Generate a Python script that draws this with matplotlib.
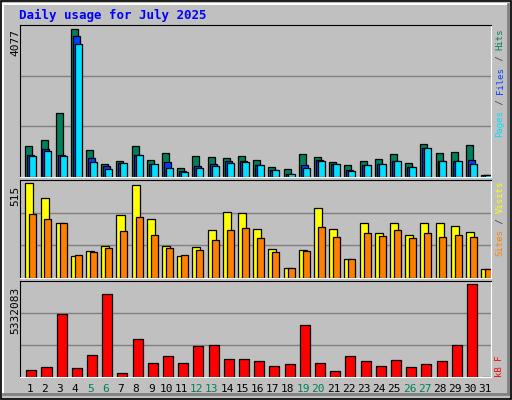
import matplotlib
matplotlib.use("Agg")
import matplotlib.pyplot as plt
from matplotlib.patches import Rectangle

days = list(range(1, 32))
weekend_days = [5, 6, 12, 13, 19, 20, 26, 27]

hits = [867, 1033, 1780, 4077, 756, 369, 452, 867, 480, 673, 258, 590, 562, 535, 590, 480,
        286, 231, 645, 562, 424, 341, 452, 507, 645, 396, 922, 673, 701, 894, 65]
files = [618, 784, 618, 3882, 535, 313, 396, 618, 369, 424, 175, 313, 369, 452, 452, 341,
         203, 92, 341, 480, 369, 203, 341, 369, 452, 286, 811, 452, 452, 480, 65]
pages = [590, 728, 590, 3660, 424, 231, 396, 618, 369, 258, 148, 258, 313, 396, 424, 341,
         203, 92, 258, 452, 369, 175, 341, 369, 452, 286, 811, 452, 452, 369, 65]
sites = [515, 437, 297, 118, 146, 174, 341, 504, 319, 174, 118, 168, 263, 358, 353, 269,
         157, 56, 151, 381, 269, 101, 297, 246, 302, 235, 302, 302, 285, 252, 50]
visits = [347, 319, 297, 123, 140, 162, 258, 330, 235, 162, 123, 151, 207, 263, 274, 218,
          140, 56, 146, 280, 224, 106, 246, 230, 263, 218, 246, 224, 235, 224, 50]
kbytes = [428000, 603000, 3640000, 545000, 1245000, 4807000, 253000, 2180000, 778000,
          1187000, 778000, 1771000, 1829000, 1012000, 1012000, 895000, 662000, 720000,
          2997000, 778000, 370000, 1187000, 895000, 662000, 954000, 603000, 720000, 895000,
          1829000, 5332083, 20000]

W, H = 512, 400
BG = "#C0C0C0"
MONO = "DejaVu Sans Mono"

fig = plt.figure(figsize=(W / 100, H / 100), dpi=100)
fig.patch.set_facecolor(BG)


def px_axes(x0, y0, x1, y1):
    # pixel box (top-left origin) -> figure axes
    return fig.add_axes([x0 / W, 1 - y1 / H, (x1 - x0) / W, (y1 - y0) / H])


# outer frame
frame = fig.add_axes([0, 0, 1, 1])
frame.set_xlim(0, W)
frame.set_ylim(H, 0)
frame.axis("off")
frame.add_patch(Rectangle((0.5, 0.5), W - 1.5, H - 1.5, fill=False, ec="black", lw=1.2))
frame.plot([3, W - 4], [4, 4], color="white", lw=1.5)
frame.plot([3, 3], [4, H - 6], color="white", lw=1.5)
frame.plot([3, W - 4], [H - 6, H - 6], color="#808080", lw=2)
frame.plot([W - 4, W - 4], [4, H - 6], color="#808080", lw=2)
frame.text(19, 15, "Daily usage for July 2025", color="#0000FF", fontsize=9,
           fontweight="bold", family=MONO, va="center")


def panel(y0, y1, ymax):
    ax = px_axes(20, y0, 491, y1)
    ax.set_facecolor(BG)
    ax.set_xlim(0.5, 31.5)
    ax.set_ylim(0, ymax)
    for frac in (1 / 3, 2 / 3):
        ax.axhline(ymax * frac, color="#808080", lw=1, zorder=0)
    ax.set_xticks([])
    ax.set_yticks([])
    for side in ("top", "left"):
        ax.spines[side].set_color("black")
    for side in ("bottom", "right"):
        ax.spines[side].set_color("white")
    return ax


def bars(ax, offset, values, width, color):
    ax.bar([d + offset for d in days], values, width=width, align="edge",
           color=color, edgecolor="black", linewidth=0.9)


ax1 = panel(25, 177, 4077 * 455 / 442)
bars(ax1, -0.15, hits, 0.46, "#00805C")
bars(ax1, -0.02, files, 0.46, "#0040FF")
bars(ax1, 0.11, pages, 0.46, "#00E0FF")

ax2 = panel(180, 278, 515 * 286 / 276)
bars(ax2, -0.15, sites, 0.53, "#FFFF00")
bars(ax2, 0.11, visits, 0.46, "#FF8000")

ax3 = panel(281, 377, 5332083 * 284 / 274)
bars(ax3, -0.085, kbytes, 0.66, "#FF0000")

# max value labels on the left
for y, label in ((29, "4077"), (186, "515"), (287, "5332083")):
    frame.text(15, y, label, rotation=90, ha="center", va="top", fontsize=8, family=MONO)


def side_label(y_bottom, parts, size=6.5):
    # stack coloured pieces bottom-to-top
    step = 0.602 * size * 100 / 72
    y = y_bottom
    for text, color in parts:
        frame.text(500, y, text, rotation=90, ha="center", va="bottom",
                   color=color, fontsize=size, family=MONO)
        y -= len(text) * step


side_label(137, [("Pages", "#00E0FF"), (" / ", "#404040"), ("Files", "#0040FF"),
                 (" / ", "#404040"), ("Hits", "#00805C")])
side_label(256, [("Sites", "#FF8000"), (" / ", "#404040"), ("Visits", "#FFFF00")])
side_label(377, [("kB F", "#FF0000")])

# day labels
for d in days:
    x = 20 + (d - 0.5) * 471 / 31 + 2
    color = "#00805C" if d in weekend_days else "black"
    frame.text(x, 389, str(d), ha="center", va="center", fontsize=8, family=MONO, color=color)

fig.savefig("out.png", dpi=100, facecolor=BG)
